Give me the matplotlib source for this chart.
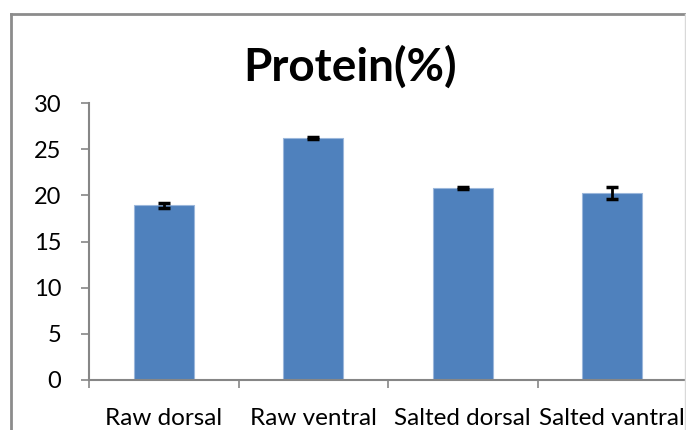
import matplotlib
matplotlib.use("Agg")
import matplotlib.pyplot as plt
from matplotlib.lines import Line2D

plt.rcParams['font.family'] = ['Lato', 'DejaVu Sans']

categories = ["Raw dorsal", "Raw ventral", "Salted dorsal", "Salted vantral"]
protein = [18.9, 26.2, 20.8, 20.2]
errors = [0.25, 0.1, 0.15, 0.65]
yticks = [0, 5, 10, 15, 20, 25, 30]

fig = plt.figure(figsize=(6.86, 4.30), dpi=100)
ax = fig.add_axes([89 / 686, 50 / 430, 598 / 686, 277 / 430])

x = list(range(len(categories)))
ax.bar(x, protein, width=0.4, color='#4F81BD', edgecolor='#9BB7DB', linewidth=0.8, zorder=2)
ax.errorbar(x, protein, yerr=errors, fmt='none', ecolor='black',
            elinewidth=2, capsize=4.5, capthick=2.5, zorder=3)

ax.set_xlim(-0.5, 3.5)
ax.set_ylim(0, 30)
ax.set_yticks(yticks)
ax.tick_params(axis='y', direction='out', length=6, width=1.2, color='#868686',
               labelsize=17, pad=14)

# category boundaries as major ticks, labels at the bar centres
ax.set_xticks([-0.5, 0.5, 1.5, 2.5, 3.5])
ax.set_xticklabels([])
ax.set_xticks(x, minor=True)
ax.set_xticklabels(categories, minor=True)
ax.tick_params(axis='x', which='major', direction='out', length=6, width=1.2, color='#868686')
ax.tick_params(axis='x', which='minor', length=0, labelsize=17.5, pad=20)

for side in ['top', 'right']:
    ax.spines[side].set_visible(False)
for side in ['left', 'bottom']:
    ax.spines[side].set_color('#868686')
    ax.spines[side].set_linewidth(1.5)

fig.text(350 / 686, 1 - 67 / 430, "Protein(%)", ha='center', va='center',
         fontsize=33, fontweight='bold')

# outer chart frame
fig.add_artist(Line2D([11 / 686, 11 / 686], [0, 1 - 14 / 430], transform=fig.transFigure,
                      color='#8C8C8C', lw=2))
fig.add_artist(Line2D([11 / 686, 685 / 686], [1 - 14 / 430, 1 - 14 / 430], transform=fig.transFigure,
                      color='#8C8C8C', lw=2))
fig.add_artist(Line2D([685 / 686, 685 / 686], [0, 1 - 14 / 430], transform=fig.transFigure,
                      color='#D9D9D9', lw=1))

fig.savefig("out.png", dpi=100)
